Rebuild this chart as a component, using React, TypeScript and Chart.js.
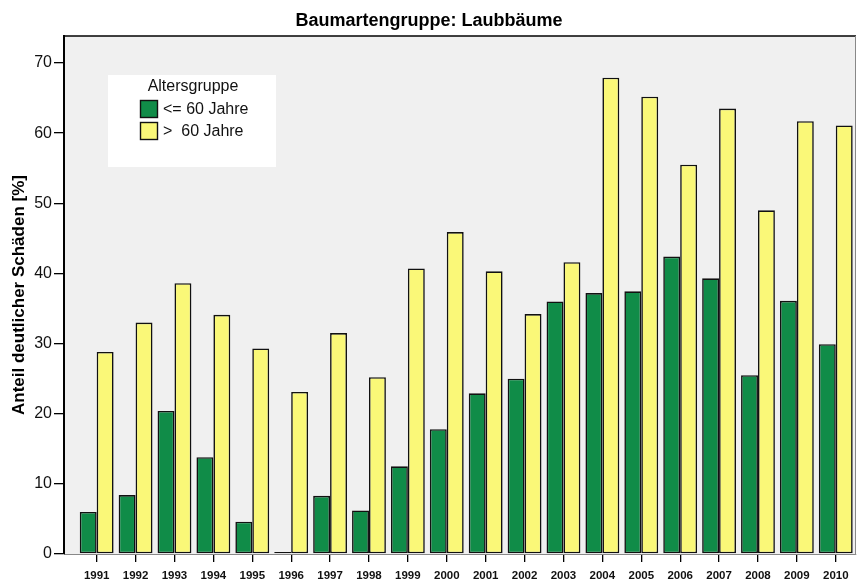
import React, { useEffect, useRef } from "react";
import { Chart, registerables } from "chart.js";

Chart.register(...registerables);

const years = [1991, 1992, 1993, 1994, 1995, 1996, 1997, 1998, 1999, 2000, 2001, 2002, 2003, 2004, 2005, 2006, 2007, 2008, 2009, 2010];
const youngValues = [6.0, 8.4, 20.4, 13.8, 4.6, 0, 8.3, 6.2, 12.5, 17.8, 22.9, 25.0, 36.0, 37.2, 37.45, 42.4, 39.3, 25.5, 36.1, 29.9];
const oldValues = [28.8, 33.0, 38.6, 34.1, 29.3, 23.1, 31.5, 25.2, 40.7, 45.9, 40.3, 34.2, 41.6, 67.9, 65.2, 55.5, 63.5, 49.0, 61.7, 61.1];
const seriesLabels = ["<= 60 Jahre", ">  60 Jahre"];
const legendTitle = "Altersgruppe";
const chartTitle = "Baumartengruppe: Laubbäume";
const yAxisTitle = "Anteil deutlicher Schäden [%]";
const yTicks = [0, 10, 20, 30, 40, 50, 60, 70];

const GREEN = "rgb(16,140,72)";
const YELLOW = "rgb(250,248,120)";
const FONT = "'Liberation Sans', Arial, sans-serif";

export default function App() {
  const ref = useRef<HTMLCanvasElement | null>(null);

  useEffect(() => {
    if (!ref.current) return;
    const decor = {
      id: "decor",
      beforeDraw(chart: any) {
        const { ctx, chartArea: a } = chart;
        ctx.save();
        ctx.fillStyle = "#ffffff";
        ctx.fillRect(0, 0, chart.width, chart.height);
        ctx.fillStyle = "#f0f0f0";
        ctx.fillRect(a.left, a.top, a.right - a.left, a.bottom - a.top);
        ctx.restore();
      },
      afterDatasetsDraw(chart: any) {
        const { ctx, chartArea: a } = chart;
        ctx.save();
        // top border
        ctx.strokeStyle = "#000";
        ctx.lineWidth = 1.5;
        ctx.beginPath();
        ctx.moveTo(a.left, a.top);
        ctx.lineTo(a.right, a.top);
        ctx.stroke();
        // right border
        ctx.strokeStyle = "#888";
        ctx.lineWidth = 1;
        ctx.beginPath();
        ctx.moveTo(a.right - 0.5, a.top);
        ctx.lineTo(a.right - 0.5, a.bottom);
        ctx.stroke();

        // legend box
        ctx.fillStyle = "#ffffff";
        ctx.fillRect(108, 75, 168, 92);
        ctx.fillStyle = "#111";
        ctx.font = `16px ${FONT}`;
        ctx.textAlign = "center";
        ctx.textBaseline = "middle";
        ctx.fillText(legendTitle, 193, 87);
        const colors = [GREEN, YELLOW];
        seriesLabels.forEach((lab, i) => {
          const y = 100 + i * 22;
          ctx.fillStyle = colors[i];
          ctx.fillRect(140, y, 18, 18);
          ctx.strokeStyle = "#111";
          ctx.lineWidth = 1.4;
          ctx.strokeRect(140.5, y + 0.5, 17, 17);
          ctx.fillStyle = "#111";
          ctx.textAlign = "left";
          ctx.fillText(lab, 163, y + 9.5);
        });

        // title
        ctx.font = `bold 18px ${FONT}`;
        ctx.textAlign = "center";
        ctx.fillStyle = "#000";
        ctx.fillText(chartTitle, 429, 21);

        // y axis title
        ctx.translate(19, (a.top + a.bottom) / 2);
        ctx.rotate(-Math.PI / 2);
        ctx.font = `bold 17px ${FONT}`;
        ctx.fillText(yAxisTitle, 0, 0);
        ctx.restore();
      },
    };

    const chart = new Chart(ref.current, {
      type: "bar",
      data: {
        datasets: [
          {
            label: seriesLabels[0],
            data: years.map((y, i) => ({ x: y, y: youngValues[i] })),
            backgroundColor: GREEN,
            borderColor: "#111",
            borderWidth: 1.6,
            borderSkipped: false,
            minBarLength: 2,
          },
          {
            label: seriesLabels[1],
            data: years.map((y, i) => ({ x: y, y: oldValues[i] })),
            backgroundColor: YELLOW,
            borderColor: "#111",
            borderWidth: 1.6,
            borderSkipped: false,
          },
        ],
      },
      plugins: [decor],
      options: {
        animation: false,
        responsive: false,
        layout: { padding: { top: 36, right: 1, left: 0, bottom: 0 } },
        plugins: {
          legend: { display: false },
          title: { display: false },
          tooltip: { enabled: false },
        },
        datasets: {
          bar: { categoryPercentage: 0.87, barPercentage: 1.0, grouped: true },
        } as any,
        scales: {
          x: {
            type: "linear",
            min: years[0] - 0.84,
            max: years[years.length - 1] + 0.52,
            offset: false,
            afterFit: (s: any) => {
              s.height = 28;
            },
            afterBuildTicks: (s: any) => {
              s.ticks = years.map((v) => ({ value: v }));
            },
            ticks: {
              stepSize: 1,
              autoSkip: false,
              maxRotation: 0,
              includeBounds: false,
              padding: 7,
              color: "#111",
              font: { family: FONT, size: 11.5, weight: "bold" },
              callback: (v: any) => String(v),
            },
            grid: {
              offset: false,
              drawOnChartArea: false,
              drawTicks: true,
              tickLength: 8,
              color: "#000",
              lineWidth: 1.3,
            },
            border: { display: true, color: "#888", width: 1 },
          } as any,
          y: {
            min: 0,
            max: 73.85,
            afterFit: (s: any) => {
              s.width = 64;
            },
            afterBuildTicks: (s: any) => {
              s.ticks = yTicks.map((v) => ({ value: v }));
            },
            ticks: {
              stepSize: 10,
              padding: 2,
              color: "#111",
              font: { family: FONT, size: 16 },
            },
            grid: {
              drawOnChartArea: false,
              drawTicks: true,
              tickLength: 10,
              color: "#000",
              lineWidth: 1.3,
            },
            border: { display: true, color: "#000", width: 2 },
          },
        },
      },
    });
    return () => chart.destroy();
  }, []);

  return (
    <canvas
      ref={ref}
      width={857}
      height={582}
      style={{ position: "absolute", left: 0, top: 0, display: "block" }}
    />
  );
}
